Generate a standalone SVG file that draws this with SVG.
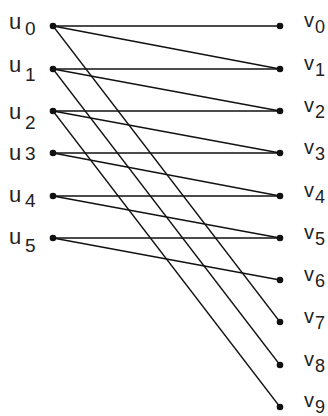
<svg xmlns="http://www.w3.org/2000/svg" width="328" height="416" viewBox="0 0 328 416">
<style>
.e{stroke:#111;stroke-width:1.3;fill:none}
.d{fill:#111}
.t{font-family:"Liberation Sans",Arial,sans-serif;fill:#222;font-size:22px}
.s{font-size:19px}
.r{font-size:20px}
.rs{font-size:18px}
</style>
<rect width="328" height="416" fill="#fff"/>
<g id="edges">
<line class="e" x1="53" y1="26" x2="280" y2="26"/>
<line class="e" x1="53" y1="26" x2="280" y2="69"/>
<line class="e" x1="53" y1="26" x2="280" y2="322"/>
<line class="e" x1="53" y1="69" x2="280" y2="69"/>
<line class="e" x1="53" y1="69" x2="280" y2="111"/>
<line class="e" x1="53" y1="69" x2="280" y2="365"/>
<line class="e" x1="53" y1="111" x2="280" y2="111"/>
<line class="e" x1="53" y1="111" x2="280" y2="153"/>
<line class="e" x1="53" y1="111" x2="280" y2="407"/>
<line class="e" x1="53" y1="153" x2="280" y2="153"/>
<line class="e" x1="53" y1="153" x2="280" y2="196"/>
<line class="e" x1="53" y1="196" x2="280" y2="196"/>
<line class="e" x1="53" y1="196" x2="280" y2="238"/>
<line class="e" x1="53" y1="238" x2="280" y2="238"/>
<line class="e" x1="53" y1="238" x2="280" y2="280"/>
</g>
<g id="u0"><circle class="d" cx="53" cy="26" r="3.3"/><text class="t" x="9" y="29">u<tspan class="s" x="25" y="35">0</tspan></text></g>
<g id="u1"><circle class="d" cx="53" cy="69" r="3.3"/><text class="t" x="9" y="72">u<tspan class="s" x="25" y="81">1</tspan></text></g>
<g id="u2"><circle class="d" cx="53" cy="111" r="3.3"/><text class="t" x="9" y="119">u<tspan class="s" x="25" y="129">2</tspan></text></g>
<g id="u3"><circle class="d" cx="53" cy="153" r="3.3"/><text class="t" x="9" y="160">u<tspan class="s" x="25" y="160">3</tspan></text></g>
<g id="u4"><circle class="d" cx="53" cy="196" r="3.3"/><text class="t" x="9" y="202">u<tspan class="s" x="25" y="207">4</tspan></text></g>
<g id="u5"><circle class="d" cx="53" cy="238" r="3.3"/><text class="t" x="9" y="244">u<tspan class="s" x="25" y="252">5</tspan></text></g>
<g id="v0"><circle class="d" cx="280" cy="26" r="3.3"/><text class="t r" x="304" y="27">v<tspan class="rs" x="315" y="33">0</tspan></text></g>
<g id="v1"><circle class="d" cx="280" cy="69" r="3.3"/><text class="t r" x="304" y="70">v<tspan class="rs" x="315" y="76">1</tspan></text></g>
<g id="v2"><circle class="d" cx="280" cy="111" r="3.3"/><text class="t r" x="304" y="112">v<tspan class="rs" x="315" y="118">2</tspan></text></g>
<g id="v3"><circle class="d" cx="280" cy="153" r="3.3"/><text class="t r" x="304" y="154">v<tspan class="rs" x="315" y="160">3</tspan></text></g>
<g id="v4"><circle class="d" cx="280" cy="196" r="3.3"/><text class="t r" x="304" y="197">v<tspan class="rs" x="315" y="203">4</tspan></text></g>
<g id="v5"><circle class="d" cx="280" cy="238" r="3.3"/><text class="t r" x="304" y="239">v<tspan class="rs" x="315" y="245">5</tspan></text></g>
<g id="v6"><circle class="d" cx="280" cy="280" r="3.3"/><text class="t r" x="304" y="281">v<tspan class="rs" x="315" y="287">6</tspan></text></g>
<g id="v7"><circle class="d" cx="280" cy="322" r="3.3"/><text class="t r" x="304" y="323">v<tspan class="rs" x="315" y="329">7</tspan></text></g>
<g id="v8"><circle class="d" cx="280" cy="365" r="3.3"/><text class="t r" x="304" y="366">v<tspan class="rs" x="315" y="372">8</tspan></text></g>
<g id="v9"><circle class="d" cx="280" cy="407" r="3.3"/><text class="t r" x="304" y="407">v<tspan class="rs" x="315" y="413">9</tspan></text></g>
</svg>
